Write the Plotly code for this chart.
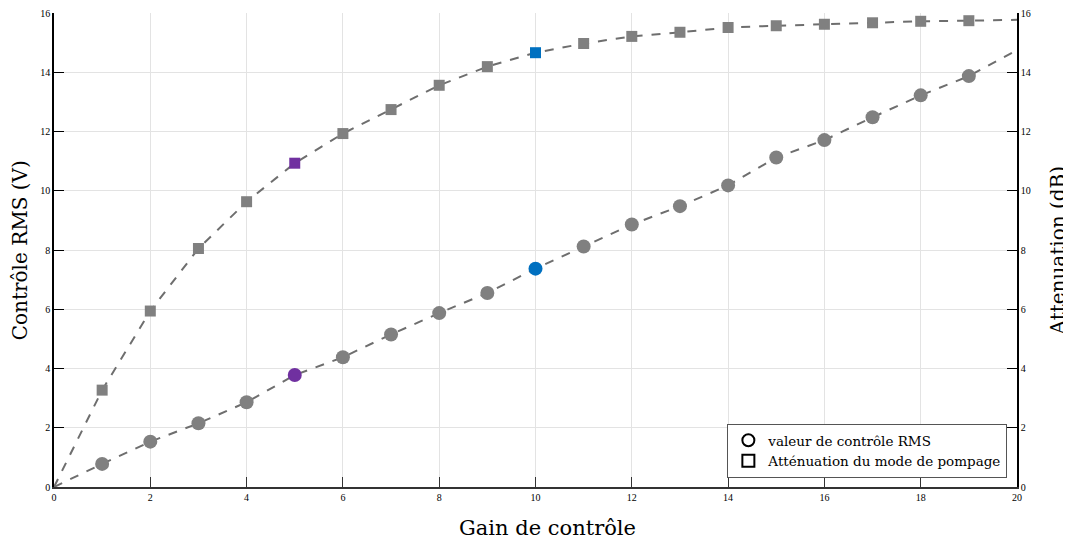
import plotly.graph_objects as go

gain = list(range(0, 21))
rms = [0.0, 0.78, 1.53, 2.15, 2.86, 3.78, 4.38, 5.15, 5.87, 6.55, 7.37,
       8.12, 8.86, 9.48, 10.18, 11.12, 11.71, 12.48, 13.22, 13.87, 14.75]
att = [0.0, 3.27, 5.94, 8.05, 9.63, 10.93, 11.93, 12.74, 13.56, 14.19, 14.66,
       14.97, 15.21, 15.35, 15.51, 15.57, 15.62, 15.67, 15.72, 15.74, 15.77]
highlight = {5: "#7030A0", 10: "#0070C0"}
base_color = "#808080"
line_color = "#6e6e6e"
FONT = "DejaVu Serif"
TFONT = "Liberation Serif"

colors = [highlight.get(g, base_color) for g in gain[1:20]]

fig = go.Figure()
fig.add_trace(go.Scatter(x=gain, y=rms, mode="lines", showlegend=False,
                         line=dict(color=line_color, width=2, dash="dash"), hoverinfo="skip"))
fig.add_trace(go.Scatter(x=gain, y=att, mode="lines", showlegend=False,
                         line=dict(color=line_color, width=2, dash="dash"), hoverinfo="skip"))
fig.add_trace(go.Scatter(x=gain[1:20], y=rms[1:20], mode="markers", showlegend=False,
                         marker=dict(symbol="circle", size=14, color=colors)))
fig.add_trace(go.Scatter(x=gain[1:20], y=att[1:20], mode="markers", showlegend=False,
                         marker=dict(symbol="square", size=11, color=colors)))
fig.add_trace(go.Scatter(x=[None], y=[None], mode="markers", name="valeur de contrôle RMS",
                         marker=dict(symbol="circle-open", size=15, color="black", line=dict(width=2.5))))
fig.add_trace(go.Scatter(x=[None], y=[None], mode="markers", name="Atténuation du mode de pompage",
                         marker=dict(symbol="square-open", size=12, color="black", line=dict(width=2.5))))
fig.add_trace(go.Scatter(x=[None], y=[None], yaxis="y2", showlegend=False))

tickvals = list(range(0, 17, 2))
axis_common = dict(ticks="inside", ticklen=10, showline=True, linewidth=1.5, zeroline=False,
                   tickfont=dict(size=10, family=TFONT), automargin=False,
                   ticklabeloverflow="allow")
# page body adds an 8px offset, so the figure is sized/margined to compensate
fig.update_layout(
    width=1063, height=533,
    margin=dict(l=46, r=54, t=5, b=54, autoexpand=False),
    plot_bgcolor="white", paper_bgcolor="white",
    font=dict(family=FONT, color="black"),
    xaxis=dict(range=[0, 20], tickvals=list(range(0, 21, 2)), showgrid=True, gridcolor="#e3e3e3",
               tickcolor="#333", linecolor="#333", **axis_common),
    yaxis=dict(range=[0, 16], tickvals=tickvals, showgrid=True, gridcolor="#e3e3e3",
               tickcolor="black", linecolor="black", **axis_common),
    yaxis2=dict(range=[0, 16], tickvals=tickvals, overlaying="y", side="right", showgrid=False,
                tickcolor="black", linecolor="black", **axis_common),
    legend=dict(x=0.99, y=0.019, xanchor="right", yanchor="bottom", bgcolor="white",
                bordercolor="#555", borderwidth=1, font=dict(size=13.5, family=FONT),
                tracegroupgap=0, itemsizing="constant"),
    annotations=[
        dict(text="Gain de contrôle", x=0.512, y=-0.086, xref="paper", yref="paper",
             xanchor="center", yanchor="middle", showarrow=False, font=dict(size=21, family=FONT)),
        dict(text="Contrôle RMS (V)", x=-0.035, y=0.5, xref="paper", yref="paper", textangle=-90,
             xanchor="center", yanchor="middle", showarrow=False, font=dict(size=20, family=FONT)),
        dict(text="Attenuation (dB)", x=1.043, y=0.5, xref="paper", yref="paper", textangle=-90,
             xanchor="center", yanchor="middle", showarrow=False, font=dict(size=20, family=FONT)),
    ],
)

fig.write_html("out.html")
